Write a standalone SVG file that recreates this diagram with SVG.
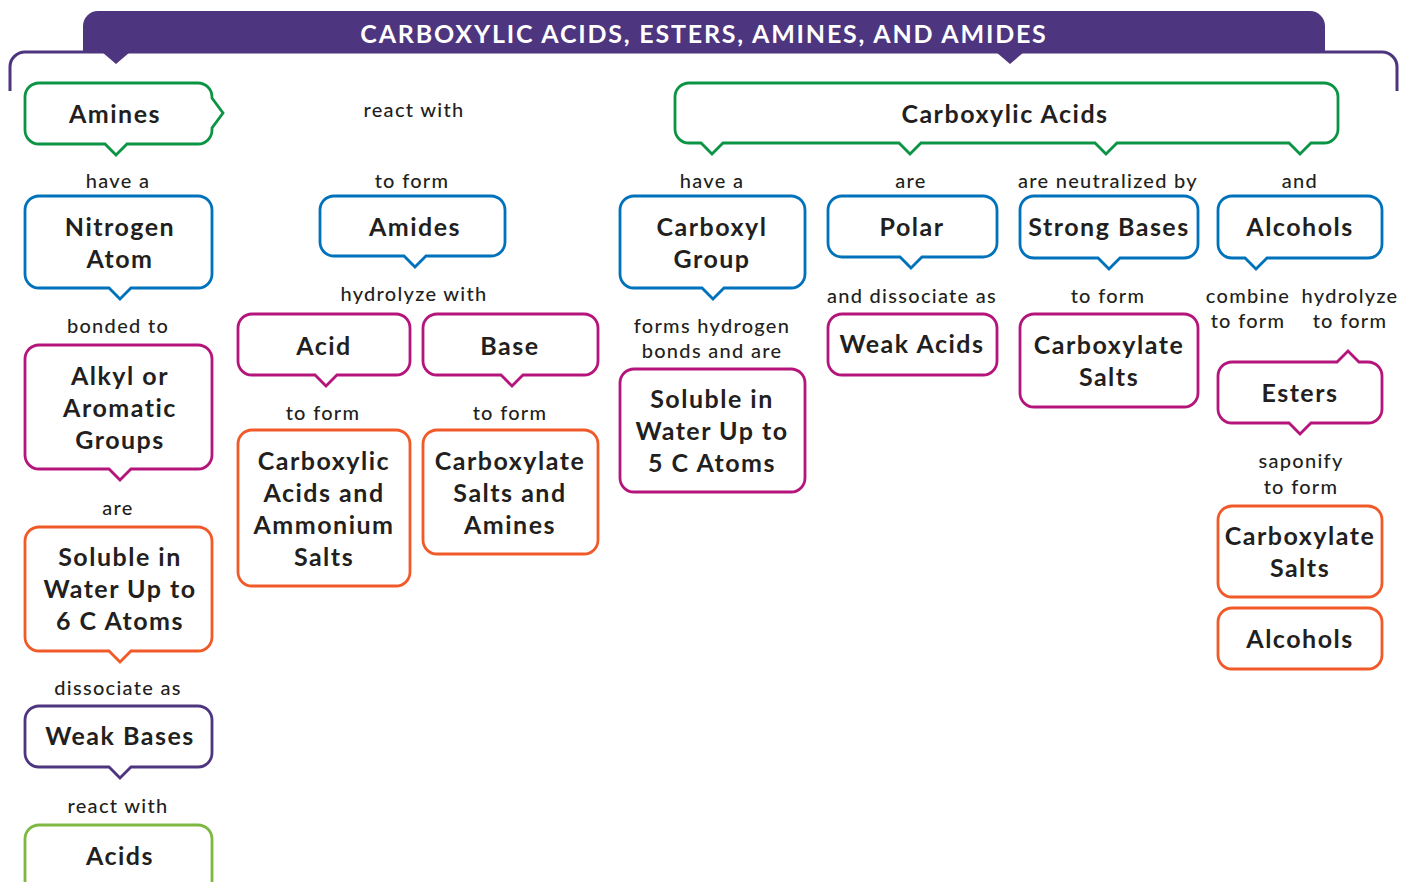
<svg xmlns="http://www.w3.org/2000/svg" width="1401" height="882" viewBox="0 0 1401 882">
<style>
.n{fill:#fff;stroke-width:2.8;stroke-linejoin:miter}
.g{stroke:#0B9444}.b{stroke:#0072BC}.m{stroke:#B5157B}.o{stroke:#F05A28}.p{stroke:#4E357F}.lg{stroke:#7DB843}
.t{font-family:Lato,"Open Sans","Liberation Sans",sans-serif;font-weight:700;font-size:25px;letter-spacing:1.5px;fill:#231F20;text-anchor:middle;dominant-baseline:central}
.l{font-family:Lato,"Open Sans","Liberation Sans",sans-serif;font-weight:500;font-size:20px;letter-spacing:1.3px;fill:#231F20;text-anchor:middle;dominant-baseline:central}
.h{font-family:Lato,"Open Sans","Liberation Sans",sans-serif;font-weight:700;font-size:25px;letter-spacing:1.8px;fill:#fff;text-anchor:middle;dominant-baseline:central}
</style>
<rect width="1401" height="882" fill="#fff"/>
<g id="banner">
<path d="M10,91 V67 A15,15 0 0 1 25,52 H1382 A15,15 0 0 1 1397,67 V91" fill="none" stroke="#4E357F" stroke-width="3"/>
<path d="M83,53 V26 A15,15 0 0 1 98,11 H1310 A15,15 0 0 1 1325,26 V53 Z" fill="#4E357F"/>
<path d="M102,52 L116,64 L130,52 Z M996,52 L1010,64 L1024,52 Z" fill="#4E357F"/>
<text class="h" x="704" y="33">CARBOXYLIC ACIDS, ESTERS, AMINES, AND AMIDES</text>
</g>
<g id="connectors">
<text class="l" x="118" y="180">have a</text>
<text class="l" x="118" y="325">bonded to</text>
<text class="l" x="118" y="507">are</text>
<text class="l" x="118" y="687">dissociate as</text>
<text class="l" x="118" y="805">react with</text>
<text class="l" x="414" y="109">react with</text>
<text class="l" x="412" y="180">to form</text>
<text class="l" x="414" y="293">hydrolyze with</text>
<text class="l" x="323" y="412">to form</text>
<text class="l" x="510" y="412">to form</text>
<text class="l" x="712" y="180">have a</text>
<text class="l" x="911" y="180">are</text>
<text class="l" x="1108" y="180">are neutralized by</text>
<text class="l" x="1300" y="180">and</text>
<text class="l" x="712" y="325">forms hydrogen</text>
<text class="l" x="712" y="350">bonds and are</text>
<text class="l" x="912" y="295">and dissociate as</text>
<text class="l" x="1108" y="295">to form</text>
<text class="l" x="1248" y="295">combine</text>
<text class="l" x="1248" y="320">to form</text>
<text class="l" x="1350" y="295">hydrolyze</text>
<text class="l" x="1350" y="320">to form</text>
<text class="l" x="1301" y="460">saponify</text>
<text class="l" x="1301" y="486">to form</text>
</g>
<g id="amines">
<path class="n g" d="M39,83 H198 A14,14 0 0 1 212,97 V98 L223,113 L212,128 V130 A14,14 0 0 1 198,144 H127 L116,155 L105,144 H39 A14,14 0 0 1 25,130 V97 A14,14 0 0 1 39,83 Z"/>
<text class="t" x="115" y="113">Amines</text>
</g>
<g id="nitrogen-atom">
<path class="n b" d="M39,196 H198 A14,14 0 0 1 212,210 V274 A14,14 0 0 1 198,288 H131 L120,299 L109,288 H39 A14,14 0 0 1 25,274 V210 A14,14 0 0 1 39,196 Z"/>
<text class="t" x="120" y="226">Nitrogen</text>
<text class="t" x="120" y="258">Atom</text>
</g>
<g id="alkyl-groups">
<path class="n m" d="M39,345 H198 A14,14 0 0 1 212,359 V455 A14,14 0 0 1 198,469 H131 L120,480 L109,469 H39 A14,14 0 0 1 25,455 V359 A14,14 0 0 1 39,345 Z"/>
<text class="t" x="120" y="375">Alkyl or</text>
<text class="t" x="120" y="407">Aromatic</text>
<text class="t" x="120" y="439">Groups</text>
</g>
<g id="soluble-6c">
<path class="n o" d="M39,527 H198 A14,14 0 0 1 212,541 V637 A14,14 0 0 1 198,651 H131 L120,662 L109,651 H39 A14,14 0 0 1 25,637 V541 A14,14 0 0 1 39,527 Z"/>
<text class="t" x="120" y="556">Soluble in</text>
<text class="t" x="120" y="588">Water Up to</text>
<text class="t" x="120" y="620">6 C Atoms</text>
</g>
<g id="weak-bases">
<path class="n p" d="M39,706 H198 A14,14 0 0 1 212,720 V753 A14,14 0 0 1 198,767 H131 L120,778 L109,767 H39 A14,14 0 0 1 25,753 V720 A14,14 0 0 1 39,706 Z"/>
<text class="t" x="120" y="735">Weak Bases</text>
</g>
<g id="acids">
<rect class="n lg" x="25" y="825" width="187" height="70" rx="14"/>
<text class="t" x="120" y="855">Acids</text>
</g>
<g id="amides">
<path class="n b" d="M334,196 H491 A14,14 0 0 1 505,210 V242 A14,14 0 0 1 491,256 H426 L415,267 L404,256 H334 A14,14 0 0 1 320,242 V210 A14,14 0 0 1 334,196 Z"/>
<text class="t" x="415" y="226">Amides</text>
</g>
<g id="acid">
<path class="n m" d="M252,314 H396 A14,14 0 0 1 410,328 V361 A14,14 0 0 1 396,375 H337 L326,386 L315,375 H252 A14,14 0 0 1 238,361 V328 A14,14 0 0 1 252,314 Z"/>
<text class="t" x="324" y="345">Acid</text>
</g>
<g id="base">
<path class="n m" d="M437,314 H584 A14,14 0 0 1 598,328 V361 A14,14 0 0 1 584,375 H523 L512,386 L501,375 H437 A14,14 0 0 1 423,361 V328 A14,14 0 0 1 437,314 Z"/>
<text class="t" x="510" y="345">Base</text>
</g>
<g id="acids-ammonium">
<rect class="n o" x="238" y="430" width="172" height="156" rx="14"/>
<text class="t" x="324" y="460">Carboxylic</text>
<text class="t" x="324" y="492">Acids and</text>
<text class="t" x="324" y="524">Ammonium</text>
<text class="t" x="324" y="556">Salts</text>
</g>
<g id="salts-amines">
<rect class="n o" x="423" y="430" width="175" height="124" rx="14"/>
<text class="t" x="510" y="460">Carboxylate</text>
<text class="t" x="510" y="492">Salts and</text>
<text class="t" x="510" y="524">Amines</text>
</g>
<g id="carboxylic-acids">
<path class="n g" d="M689,83 H1324 A14,14 0 0 1 1338,97 V129 A14,14 0 0 1 1324,143 H1311 L1300,154 L1289,143 H1117 L1106,154 L1095,143 H921 L910,154 L899,143 H723 L712,154 L701,143 H689 A14,14 0 0 1 675,129 V97 A14,14 0 0 1 689,83 Z"/>
<text class="t" x="1005" y="113">Carboxylic Acids</text>
</g>
<g id="carboxyl-group">
<path class="n b" d="M634,196 H791 A14,14 0 0 1 805,210 V274 A14,14 0 0 1 791,288 H724 L713,299 L702,288 H634 A14,14 0 0 1 620,274 V210 A14,14 0 0 1 634,196 Z"/>
<text class="t" x="712" y="226">Carboxyl</text>
<text class="t" x="712" y="258">Group</text>
</g>
<g id="polar">
<path class="n b" d="M842,196 H983 A14,14 0 0 1 997,210 V243 A14,14 0 0 1 983,257 H922 L911,268 L900,257 H842 A14,14 0 0 1 828,243 V210 A14,14 0 0 1 842,196 Z"/>
<text class="t" x="912" y="226">Polar</text>
</g>
<g id="strong-bases">
<path class="n b" d="M1034,196 H1184 A14,14 0 0 1 1198,210 V244 A14,14 0 0 1 1184,258 H1120 L1109,269 L1098,258 H1034 A14,14 0 0 1 1020,244 V210 A14,14 0 0 1 1034,196 Z"/>
<text class="t" x="1109" y="226">Strong Bases</text>
</g>
<g id="alcohols-1">
<path class="n b" d="M1232,196 H1368 A14,14 0 0 1 1382,210 V244 A14,14 0 0 1 1368,258 H1267 L1256,269 L1245,258 H1232 A14,14 0 0 1 1218,244 V210 A14,14 0 0 1 1232,196 Z"/>
<text class="t" x="1300" y="226">Alcohols</text>
</g>
<g id="soluble-5c">
<rect class="n m" x="620" y="369" width="185" height="123" rx="14"/>
<text class="t" x="712" y="398">Soluble in</text>
<text class="t" x="712" y="430">Water Up to</text>
<text class="t" x="712" y="462">5 C Atoms</text>
</g>
<g id="weak-acids">
<rect class="n m" x="828" y="314" width="169" height="61" rx="14"/>
<text class="t" x="912" y="343">Weak Acids</text>
</g>
<g id="carboxylate-salts-1">
<rect class="n m" x="1020" y="314" width="178" height="93" rx="14"/>
<text class="t" x="1109" y="344">Carboxylate</text>
<text class="t" x="1109" y="376">Salts</text>
</g>
<g id="esters">
<path class="n m" d="M1232,362 H1337 L1348,351 L1359,362 H1368 A14,14 0 0 1 1382,376 V409 A14,14 0 0 1 1368,423 H1311 L1300,434 L1289,423 H1232 A14,14 0 0 1 1218,409 V376 A14,14 0 0 1 1232,362 Z"/>
<text class="t" x="1300" y="392">Esters</text>
</g>
<g id="carboxylate-salts-2">
<rect class="n o" x="1218" y="506" width="164" height="91" rx="14"/>
<text class="t" x="1300" y="535">Carboxylate</text>
<text class="t" x="1300" y="567">Salts</text>
</g>
<g id="alcohols-2">
<rect class="n o" x="1218" y="608" width="164" height="61" rx="14"/>
<text class="t" x="1300" y="638">Alcohols</text>
</g>
</svg>
